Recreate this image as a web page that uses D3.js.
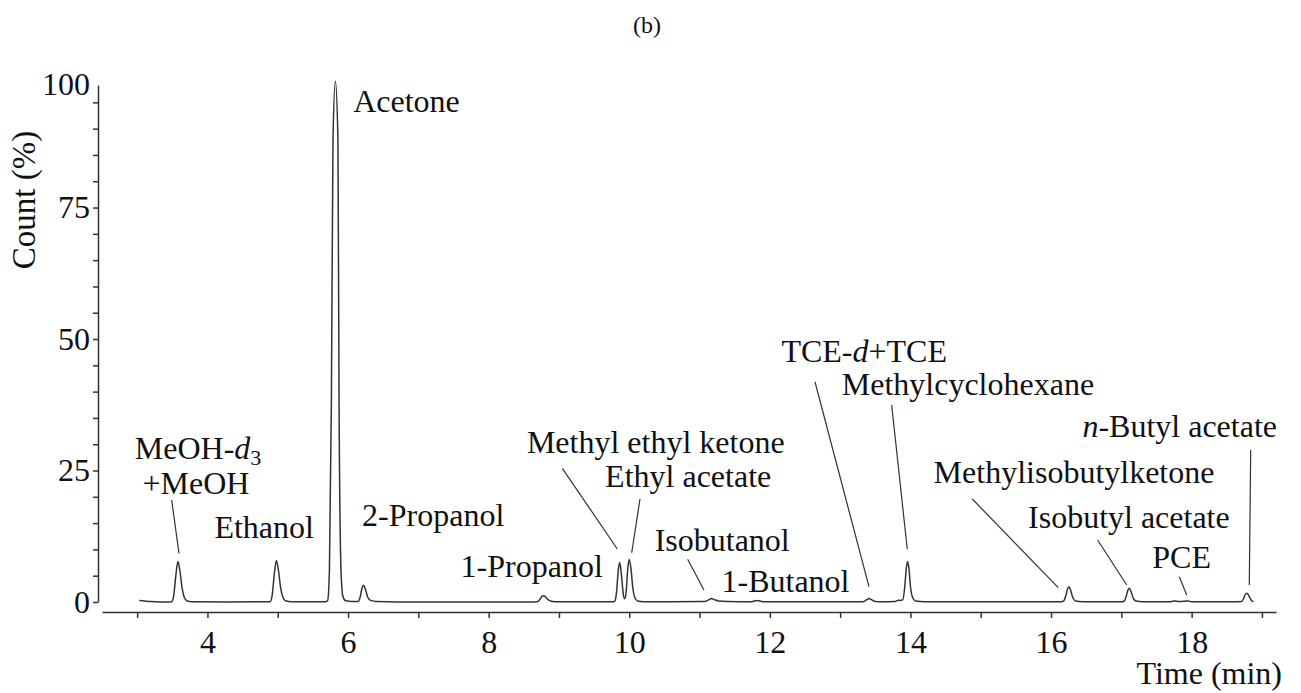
<!DOCTYPE html>
<html>
<head>
<meta charset="utf-8">
<script src="https://cdn.jsdelivr.net/npm/d3@7"></script>
<style>
  body { margin: 0; background: #fff; }
  svg text { font-family: "Times New Roman", "Liberation Serif", Times, "DejaVu Serif", serif; fill: #111; }
  .axis path, .axis line { stroke: #333; stroke-width: 1.5; }
  .axis text { font-size: 32px; }
</style>
</head>
<body>
<div id="chart"></div>
<script>
// chromatogram trace (time in min, count in %)
var traceTime = [
  3.03, 3.2, 3.45,
  3.49, 3.52, 3.55, 3.58, 3.61, 3.64, 3.67, 3.71, 3.78,
  4.3, 4.89, 4.92, 4.95, 4.98, 5.01, 5.04, 5.07, 5.11, 5.2,
  5.5, 5.68, 5.71, 5.735, 5.763, 5.786, 5.82, 5.856, 5.872, 5.90, 5.925, 5.96, 6.05,
  6.14, 6.17, 6.20, 6.22, 6.25, 6.28, 6.32, 6.4,
  7.0, 8.6, 8.69, 8.73, 8.77, 8.80, 8.84, 8.89, 8.98,
  9.6, 9.78, 9.80, 9.82, 9.845, 9.865, 9.89, 9.915, 9.935, 9.955, 9.98, 10.00, 10.025, 10.05, 10.08, 10.12, 10.2,
  10.6, 11.05, 11.09, 11.13, 11.17, 11.21, 11.27, 11.4,
  11.74, 11.82, 11.9, 12.5, 13.3,
  13.34, 13.38, 13.41, 13.45, 13.50, 13.6,
  13.78, 13.83, 13.86, 13.89, 13.92, 13.94, 13.96, 13.98, 14.0, 14.03, 14.07, 14.2,
  15.0, 16.15, 16.18, 16.21, 16.235, 16.255, 16.28, 16.31, 16.35, 16.45,
  17.0, 17.04, 17.07, 17.095, 17.115, 17.14, 17.17, 17.21, 17.3,
  17.7, 17.76, 17.82, 17.9, 17.95, 18.0,
  18.6, 18.71, 18.74, 18.77, 18.79, 18.82, 18.85, 18.88
];
var traceCount = [
  0.3, 0.1, 0.0,
  0.05, 1.2, 5.0, 7.7, 5.8, 2.6, 0.9, 0.2, 0.05,
  0.0, 0.05, 1.2, 5.2, 7.9, 6.0, 2.8, 1.0, 0.25, 0.05,
  0.05, 0.05, 0.3, 6, 38, 88, 99, 88, 38, 6, 1.2, 0.3, 0.1,
  0.1, 0.8, 2.7, 3.2, 2.3, 0.9, 0.3, 0.1,
  0.0, 0.0, 0.05, 0.5, 1.2, 1.1, 0.5, 0.15, 0.05,
  0.05, 0.05, 0.3, 2.0, 6.2, 7.5, 5.0, 1.5, 0.6, 1.8, 6.5, 8.1, 6.3, 2.8, 0.8, 0.2, 0.05,
  0.05, 0.1, 0.15, 0.4, 0.65, 0.45, 0.2, 0.1,
  0.05, 0.3, 0.05, 0.05, 0.05,
  0.1, 0.45, 0.65, 0.4, 0.1, 0.05,
  0.1, 0.35, 0.3, 0.4, 3.0, 6.3, 7.7, 6.2, 3.0, 0.9, 0.2, 0.05,
  0.05, 0.05, 0.2, 1.2, 2.5, 2.9, 2.2, 0.8, 0.2, 0.05,
  0.05, 0.15, 1.1, 2.3, 2.6, 1.9, 0.7, 0.2, 0.05,
  0.05, 0.2, 0.1, 0.15, 0.2, 0.05,
  0.05, 0.1, 0.7, 1.6, 1.65, 1.0, 0.3, 0.1
];

// peak labels: text parts, label centre (time, count), leader line from/to (time, count)
var peakLabels = [
  {parts: [["MeOH-"], ["d", "i"], ["3", "sub"]], t: 3.866, v: 27.13},
  {parts: [["+MeOH"]], t: 3.837, v: 20.53, lead: [3.491, 19.39, 3.595, 9.26]},
  {parts: [["Ethanol"]], t: 4.807, v: 12.11},
  {parts: [["Acetone"]], t: 6.831, v: 93.21},
  {parts: [["2-Propanol"]], t: 7.211, v: 14.45},
  {parts: [["1-Propanol"]], t: 8.612, v: 4.81},
  {parts: [["Methyl ethyl ketone"]], t: 10.377, v: 28.27, lead: [9.048, 25.42, 9.830, 10.08]},
  {parts: [["Ethyl acetate"]], t: 10.838, v: 21.81, lead: [10.153, 19.58, 10.035, 9.37]},
  {parts: [["Isobutanol"]], t: 11.322, v: 9.75, lead: [10.831, 8.12, 11.063, 2.28]},
  {parts: [["1-Butanol"]], t: 12.223, v: 1.96},
  {parts: [["TCE-"], ["d", "i"], ["+TCE"]], t: 13.342, v: 45.68, lead: [12.642, 41.88, 13.410, 2.91]},
  {parts: [["Methylcyclohexane"]], t: 14.818, v: 39.35, lead: [13.733, 37.45, 13.955, 10.02]},
  {parts: [["Methylisobutylketone"]], t: 16.327, v: 22.57, lead: [14.880, 19.58, 16.103, 2.72]},
  {parts: [["Isobutyl acetate"]], t: 17.107, v: 14.01, lead: [16.663, 11.79, 17.076, 3.23]},
  {parts: [["PCE"]], t: 17.858, v: 6.41, lead: [17.824, 4.81, 17.930, 1.33]},
  {parts: [["n", "i"], ["-Butyl acetate"]], t: 17.830, v: 31.43, lead: [18.840, 28.90, 18.820, 3.23]}
];

var xTicks = [3, 4, 5, 6, 7, 8, 9, 10, 11, 12, 13, 14, 15, 16, 17, 18, 19];
var yTicks = [0, 5, 10, 15, 20, 25, 30, 35, 40, 45, 50, 55, 60, 65, 70, 75, 80, 85, 90, 95];
var yLabels = [0, 25, 50, 75, 100];

var W = 1301, H = 693;
var serif = '"Times New Roman", "Liberation Serif", Times, "DejaVu Serif", serif';

var svg = d3.select("#chart").append("svg")
    .attr("width", W)
    .attr("height", H);

var x = d3.scaleLinear().domain([2.5, 19.2]).range([102, 1276]);
var y = d3.scaleLinear().domain([0, 98.3]).range([602, 85]);

// title
svg.append("text")
    .attr("x", 647).attr("y", 33)
    .attr("text-anchor", "middle")
    .style("font-size", "24px")
    .text("(b)");

// x axis
var xAxis = d3.axisBottom(x)
    .tickValues(xTicks)
    .tickSize(6)
    .tickSizeOuter(0)
    .tickPadding(12)
    .tickFormat(function(d) { return d % 2 === 0 ? d : ""; });

svg.append("g")
    .attr("class", "x axis")
    .attr("transform", "translate(0,612)")
    .call(xAxis)
    .attr("font-family", serif);

// y axis
var yAxis = d3.axisLeft(y)
    .tickValues(yTicks)
    .tickSize(5)
    .tickSizeOuter(0)
    .tickPadding(3)
    .tickFormat(function(d) { return yLabels.indexOf(d) >= 0 ? d : ""; });

var gy = svg.append("g")
    .attr("class", "y axis")
    .attr("transform", "translate(98,0)")
    .call(yAxis)
    .attr("font-family", serif);

// top label sits at the end of the axis line
gy.append("text")
    .attr("x", -8)
    .attr("y", y(98.3))
    .attr("dy", "0.32em")
    .attr("text-anchor", "end")
    .text("100");

// axis titles
svg.append("text")
    .attr("text-anchor", "middle")
    .attr("transform", "translate(35,200)rotate(-90)")
    .style("font-size", "33px")
    .text("Count (%)");

svg.append("text")
    .attr("x", 1282).attr("y", 684)
    .attr("text-anchor", "end")
    .style("font-size", "32px")
    .text("Time (min)");

// trace
var trace = traceTime.map(function(t, i) { return [t, traceCount[i]]; });

var line = d3.line()
    .x(function(d) { return x(d[0]); })
    .y(function(d) { return y(d[1]); })
    .curve(d3.curveMonotoneX);

svg.append("path")
    .datum(trace)
    .attr("fill", "none")
    .attr("stroke", "#333")
    .attr("stroke-width", 1.5)
    .attr("stroke-linejoin", "round")
    .attr("d", line);

// leader lines
svg.selectAll(".leader")
    .data(peakLabels.filter(function(d) { return d.lead; }))
    .enter().append("line")
    .attr("class", "leader")
    .attr("x1", function(d) { return x(d.lead[0]); })
    .attr("y1", function(d) { return y(d.lead[1]); })
    .attr("x2", function(d) { return x(d.lead[2]); })
    .attr("y2", function(d) { return y(d.lead[3]); })
    .attr("stroke", "#333")
    .attr("stroke-width", 1.2);

// peak labels
var lab = svg.selectAll(".peak-label")
    .data(peakLabels)
    .enter().append("text")
    .attr("class", "peak-label")
    .attr("x", function(d) { return x(d.t); })
    .attr("y", function(d) { return y(d.v); })
    .attr("text-anchor", "middle")
    .style("font-size", "32px");

lab.each(function(d) {
    var el = d3.select(this);
    d.parts.forEach(function(p) {
        var ts = el.append("tspan").text(p[0]);
        if (p[1] === "i") ts.style("font-style", "italic");
        if (p[1] === "sub") ts.attr("dy", "0.25em").style("font-size", "22px");
    });
});
</script>
</body>
</html>
